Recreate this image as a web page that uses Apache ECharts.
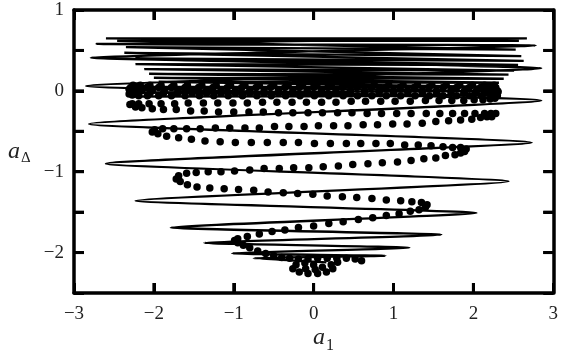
<!DOCTYPE html>
<html>
<head>
<meta charset="utf-8">
<script src="https://cdn.jsdelivr.net/npm/echarts@6.0.0/dist/echarts.min.js"></script>
<style>
  html, body { margin: 0; padding: 0; background: #fff; }
  #chart { width: 561px; height: 355px; }
</style>
</head>
<body>
<div id="chart"></div>
<script>
// axis ticks
const xTicks = [-3, -2, -1, 0, 1, 2, 3];
const yTicks = [-2.5, -2, -1.5, -1, -0.5, 0, 0.5, 1];
const yLabelTicks = [1, 0, -1, -2];

// thin zig-zag trajectory (turning points, bottom to top)
const curveTurns = [
  [0.16, -2.12], [-0.75, -2.07], [0.90, -2.04], [-1.02, -2.01], [1.20, -1.94],
  [-1.37, -1.88], [1.60, -1.78], [-1.79, -1.69], [2.04, -1.51], [-2.23, -1.36],
  [2.44, -1.12], [-2.60, -0.90], [2.73, -0.64], [-2.81, -0.41], [2.85, -0.12],
  [-2.85, 0.06], [2.85, 0.28], [-2.79, 0.41], [2.78, 0.56], [-2.72, 0.58],
  [2.67, 0.65], [-2.60, 0.65], [2.57, 0.62], [-2.46, 0.62], [2.53, 0.51],
  [-2.35, 0.54], [2.60, 0.43], [-2.37, 0.47], [2.63, 0.37], [-2.23, 0.40],
  [2.56, 0.32], [-2.23, 0.33], [2.51, 0.25], [-2.12, 0.27], [2.44, 0.20],
  [-2.06, 0.21], [2.38, 0.15], [-2.00, 0.16], [2.32, 0.10], [-1.94, 0.11],
  [2.32, 0.05], [-2.31, 0.05], [2.32, 0.00], [-2.31, -0.02], [2.32, -0.06],
  [-2.25, -0.07]
];

// dotted trajectory, row by row from the bottom
const dotsBlob = [
  [-0.40, -2.06], [-0.30, -2.07], [-0.19, -2.08], [-0.07, -2.08], [0.05, -2.07],
  [0.17, -2.07], [0.29, -2.07], [0.41, -2.07], [0.52, -2.08], [0.60, -2.10],
  [0.30, -2.12], [0.22, -2.15], [0.24, -2.20], [0.16, -2.24], [0.05, -2.26],
  [-0.07, -2.26], [-0.18, -2.24], [-0.26, -2.20], [-0.22, -2.15], [-0.11, -2.13],
  [0.00, -2.15], [0.11, -2.18], [0.02, -2.21], [-0.10, -2.20]
];
const dotsRow1 = [
  [-0.50, -2.04], [-0.60, -2.01], [-0.70, -1.98], [-0.80, -1.94], [-0.88, -1.91],
  [-0.95, -1.88], [-0.99, -1.85]
];
const dotsRow2 = [
  [-0.95, -1.83], [-0.83, -1.80], [-0.68, -1.77], [-0.52, -1.74], [-0.36, -1.72],
  [-0.19, -1.69], [0.00, -1.67], [0.19, -1.64], [0.37, -1.62], [0.56, -1.59],
  [0.74, -1.57], [0.91, -1.54], [1.07, -1.52], [1.21, -1.49], [1.32, -1.47], [1.40, -1.44]
];
const dotsRow3 = [
  [1.42, -1.41], [1.35, -1.38], [1.23, -1.37], [1.09, -1.36], [0.91, -1.35],
  [0.73, -1.33], [0.54, -1.32], [0.36, -1.31], [0.17, -1.30], [-0.01, -1.28],
  [-0.20, -1.27], [-0.38, -1.26], [-0.57, -1.25], [-0.75, -1.23], [-0.94, -1.22],
  [-1.12, -1.21], [-1.30, -1.20], [-1.46, -1.19], [-1.58, -1.16], [-1.67, -1.12], [-1.72, -1.09]
];
const dotsRow4 = [
  [-1.69, -1.05], [-1.59, -1.02], [-1.47, -1.01], [-1.32, -1.00], [-1.16, -1.00],
  [-0.99, -0.99], [-0.80, -0.98], [-0.62, -0.96], [-0.43, -0.96], [-0.25, -0.95],
  [-0.06, -0.95], [0.12, -0.94], [0.31, -0.93], [0.49, -0.91], [0.68, -0.90],
  [0.86, -0.89], [1.05, -0.88], [1.22, -0.86], [1.38, -0.84], [1.53, -0.83],
  [1.65, -0.80], [1.77, -0.79], [1.84, -0.77], [1.89, -0.75]
];
const dotsRow5 = [
  [1.91, -0.72], [1.84, -0.70], [1.74, -0.70], [1.62, -0.69], [1.47, -0.68],
  [1.31, -0.67], [1.14, -0.67], [0.96, -0.65], [0.78, -0.65], [0.59, -0.65],
  [0.41, -0.65], [0.21, -0.65], [0.01, -0.65], [-0.19, -0.64], [-0.38, -0.64],
  [-0.58, -0.64], [-0.78, -0.64], [-0.98, -0.64], [-1.17, -0.63], [-1.36, -0.62],
  [-1.53, -0.60], [-1.69, -0.58], [-1.84, -0.56], [-1.95, -0.53], [-2.02, -0.51]
];
const dotsRow6 = [
  [-1.99, -0.48], [-1.89, -0.47], [-1.75, -0.47], [-1.59, -0.47], [-1.42, -0.47],
  [-1.23, -0.46], [-1.05, -0.46], [-0.86, -0.46], [-0.68, -0.46], [-0.49, -0.44],
  [-0.31, -0.44], [-0.12, -0.44], [0.06, -0.43], [0.25, -0.43], [0.43, -0.43],
  [0.62, -0.42], [0.80, -0.42], [0.99, -0.41], [1.17, -0.41], [1.36, -0.40],
  [1.53, -0.38], [1.69, -0.37], [1.84, -0.36], [1.98, -0.35], [2.09, -0.33],
  [2.17, -0.32], [2.23, -0.32]
];
const dotsRow7 = [
  [2.28, -0.28], [2.22, -0.28], [2.14, -0.28], [2.02, -0.28], [1.89, -0.28],
  [1.74, -0.28], [1.58, -0.28], [1.41, -0.28], [1.22, -0.28], [1.04, -0.28],
  [0.85, -0.28], [0.67, -0.28], [0.48, -0.27], [0.30, -0.27], [0.11, -0.27],
  [-0.07, -0.27], [-0.26, -0.27], [-0.44, -0.27], [-0.63, -0.26], [-0.81, -0.26],
  [-1.00, -0.26], [-1.19, -0.26], [-1.37, -0.25], [-1.54, -0.25], [-1.72, -0.23],
  [-1.88, -0.23], [-2.02, -0.22], [-2.15, -0.21], [-2.23, -0.20], [-2.30, -0.17]
];
const dotsRow8 = [
  [-2.27, -0.16], [-2.19, -0.16], [-2.06, -0.16], [-1.91, -0.16], [-1.74, -0.16],
  [-1.57, -0.15], [-1.38, -0.15], [-1.20, -0.15], [-1.01, -0.15], [-0.83, -0.15],
  [-0.64, -0.14], [-0.46, -0.14], [-0.27, -0.14], [-0.09, -0.14], [0.10, -0.14],
  [0.28, -0.14], [0.47, -0.13], [0.65, -0.13], [0.84, -0.13], [1.02, -0.13],
  [1.21, -0.13], [1.40, -0.12], [1.57, -0.12], [1.73, -0.12], [1.88, -0.12],
  [2.01, -0.11], [2.12, -0.11], [2.21, -0.10], [2.27, -0.09]
];
const dotsRow9 = [
  [2.30, -0.06], [2.22, -0.06], [2.10, -0.06], [1.95, -0.06], [1.79, -0.06],
  [1.62, -0.06], [1.45, -0.06], [1.27, -0.06], [1.09, -0.06], [0.91, -0.06],
  [0.73, -0.06], [0.55, -0.06], [0.37, -0.06], [0.19, -0.06], [0.01, -0.06],
  [-0.17, -0.06], [-0.35, -0.06], [-0.53, -0.06], [-0.71, -0.06], [-0.89, -0.06],
  [-1.07, -0.06], [-1.25, -0.06], [-1.43, -0.06], [-1.61, -0.06], [-1.78, -0.06],
  [-1.94, -0.06], [-2.08, -0.06], [-2.19, -0.06], [-2.27, -0.05], [-2.31, -0.04]
];
const dotsRow10 = [
  [-2.30, -0.03], [-2.20, -0.03], [-2.05, -0.03], [-1.88, -0.03], [-1.70, -0.03],
  [-1.52, -0.03], [-1.34, -0.03], [-1.16, -0.03], [-0.98, -0.03], [-0.80, -0.03],
  [-0.62, -0.03], [-0.44, -0.03], [-0.26, -0.03], [-0.08, -0.03], [0.10, -0.03],
  [0.28, -0.03], [0.46, -0.03], [0.64, -0.03], [0.82, -0.03], [1.00, -0.03],
  [1.18, -0.03], [1.36, -0.03], [1.54, -0.03], [1.72, -0.03], [1.88, -0.03],
  [2.02, -0.03], [2.14, -0.03], [2.24, -0.02], [2.31, -0.01]
];
const dotsRow11 = [
  [2.30, 0.00], [2.25, 0.00], [2.16, 0.00], [2.04, 0.00], [1.89, 0.00],
  [1.72, 0.00], [1.54, 0.00], [1.36, 0.00], [1.18, 0.00], [1.00, 0.00],
  [0.82, 0.00], [0.64, 0.00], [0.46, 0.00], [0.28, 0.00], [0.10, 0.00],
  [-0.08, 0.00], [-0.26, 0.00], [-0.44, 0.00], [-0.62, 0.00], [-0.80, 0.00],
  [-0.98, 0.00], [-1.16, 0.00], [-1.34, 0.00], [-1.52, 0.00], [-1.70, 0.00],
  [-1.87, 0.00], [-2.02, 0.00], [-2.15, 0.00], [-2.25, 0.01], [-2.31, 0.02]
];
const dotsRow12 = [
  [-2.29, 0.04], [-2.21, 0.04], [-2.09, 0.04], [-1.94, 0.04], [-1.78, 0.04],
  [-1.61, 0.04], [-1.44, 0.04], [-1.26, 0.04], [-1.08, 0.04], [-0.90, 0.04],
  [-0.72, 0.04], [-0.54, 0.04], [-0.36, 0.04], [-0.18, 0.04], [0.00, 0.04],
  [0.18, 0.04], [0.36, 0.04], [0.54, 0.04], [0.72, 0.04], [0.90, 0.04],
  [1.08, 0.04], [1.26, 0.04], [1.44, 0.04], [1.62, 0.04], [1.79, 0.04],
  [1.95, 0.04], [2.09, 0.04], [2.20, 0.04], [2.28, 0.04]
];
const dotsRow13 = [
  [2.26, 0.07], [2.14, 0.07], [1.99, 0.07], [1.83, 0.07], [1.66, 0.07],
  [1.48, 0.07], [1.30, 0.07], [1.12, 0.07], [0.94, 0.07], [0.76, 0.07],
  [0.58, 0.07], [0.40, 0.07], [0.22, 0.07], [0.04, 0.07], [-0.14, 0.07],
  [-0.32, 0.07], [-0.50, 0.07], [-0.68, 0.07], [-0.86, 0.07], [-1.04, 0.07],
  [-1.22, 0.07], [-1.40, 0.07], [-1.58, 0.07], [-1.75, 0.07], [-1.91, 0.07],
  [-2.05, 0.07], [-2.17, 0.07], [-2.26, 0.07]
];

const dotPoints = [].concat(
  dotsBlob, dotsRow1, dotsRow2, dotsRow3, dotsRow4, dotsRow5, dotsRow6,
  dotsRow7, dotsRow8, dotsRow9, dotsRow10, dotsRow11, dotsRow12, dotsRow13
);

const FONT = "'Liberation Serif', 'Times New Roman', serif";
const minus = (v) => String(v).replace('-', '\u2212');
const TICK_LEN = 10;

const chart = echarts.init(document.getElementById('chart'));

// frame line + inward ticks, fresh object for every axis
const frameLine = () => ({ show: true, onZero: false, lineStyle: { color: '#000', width: 3.5 } });
const innerTick = () => ({ show: true, inside: true, length: TICK_LEN, lineStyle: { color: '#000', width: 3 } });

// inward frame ticks drawn through the axis scales (top+bottom / left+right)
const tickStyle = { stroke: '#000', lineWidth: 3 };
const renderXTick = (params, api) => {
  const cs = params.coordSys;
  const px = api.coord([api.value(0), api.value(1)])[0];
  const bottom = cs.y + cs.height;
  return {
    type: 'group',
    children: [
      { type: 'line', shape: { x1: px, y1: bottom, x2: px, y2: bottom - TICK_LEN }, style: tickStyle },
      { type: 'line', shape: { x1: px, y1: cs.y, x2: px, y2: cs.y + TICK_LEN }, style: tickStyle }
    ]
  };
};
const renderYTick = (params, api) => {
  const cs = params.coordSys;
  const py = api.coord([api.value(0), api.value(1)])[1];
  const right = cs.x + cs.width;
  return {
    type: 'group',
    children: [
      { type: 'line', shape: { x1: cs.x, y1: py, x2: cs.x + TICK_LEN, y2: py }, style: tickStyle },
      { type: 'line', shape: { x1: right, y1: py, x2: right - TICK_LEN, y2: py }, style: tickStyle }
    ]
  };
};

const option = {
  animation: false,
  textStyle: { fontFamily: FONT },
  grid: { left: 74, right: 1, top: 10, bottom: 62 },
  xAxis: [
    {
      type: 'value', min: -3, max: 3, interval: 1, position: 'bottom',
      axisLine: frameLine(), axisTick: innerTick(), splitLine: { show: false },
      axisLabel: {
        margin: 12, color: '#222', fontFamily: FONT, fontSize: 19,
        formatter: (v) => (xTicks.includes(v) ? minus(v) : '')
      }
    },
    {
      type: 'value', min: -3, max: 3, interval: 1, position: 'top',
      axisLine: frameLine(), axisTick: innerTick(), splitLine: { show: false },
      axisLabel: { show: false }
    }
  ],
  yAxis: [
    {
      type: 'value', min: -2.5, max: 1, interval: 0.5, position: 'left',
      axisLine: frameLine(), axisTick: innerTick(), splitLine: { show: false },
      axisLabel: {
        margin: 10, color: '#222', fontFamily: FONT, fontSize: 19,
        formatter: (v) => (yLabelTicks.includes(v) ? minus(v) : '')
      }
    },
    {
      type: 'value', min: -2.5, max: 1, interval: 0.5, position: 'right',
      axisLine: frameLine(), axisTick: innerTick(), splitLine: { show: false },
      axisLabel: { show: false }
    }
  ],
  graphic: [
    { type: 'text', left: 8, top: 140, style: { text: 'a', font: "italic 24px 'Liberation Serif'", fill: '#222' } },
    { type: 'text', left: 21, top: 151, style: { text: '\u0394', font: "15px 'Liberation Serif'", fill: '#222' } },
    { type: 'text', left: 313, top: 326, style: { text: 'a', font: "italic 24px 'Liberation Serif'", fill: '#222' } },
    { type: 'text', left: 326, top: 338, style: { text: '1', font: "16px 'Liberation Serif'", fill: '#222' } }
  ],
  series: [
    {
      type: 'line', data: curveTurns, symbol: 'none', silent: true, smooth: 0.15,
      lineStyle: { color: '#000', width: 2.3 }
    },
    {
      type: 'scatter', data: dotPoints, symbol: 'circle', symbolSize: 7.5, silent: true,
      itemStyle: { color: '#000', opacity: 1 }
    },
    {
      type: 'custom', silent: true, z: 5, clip: false,
      data: xTicks.filter((v) => v > -3 && v < 3).map((v) => [v, 0]),
      renderItem: renderXTick
    },
    {
      type: 'custom', silent: true, z: 5, clip: false,
      data: yTicks.filter((v) => v > -2.5 && v < 1).map((v) => [0, v]),
      renderItem: renderYTick
    }
  ]
};

chart.setOption(option);
</script>
</body>
</html>
